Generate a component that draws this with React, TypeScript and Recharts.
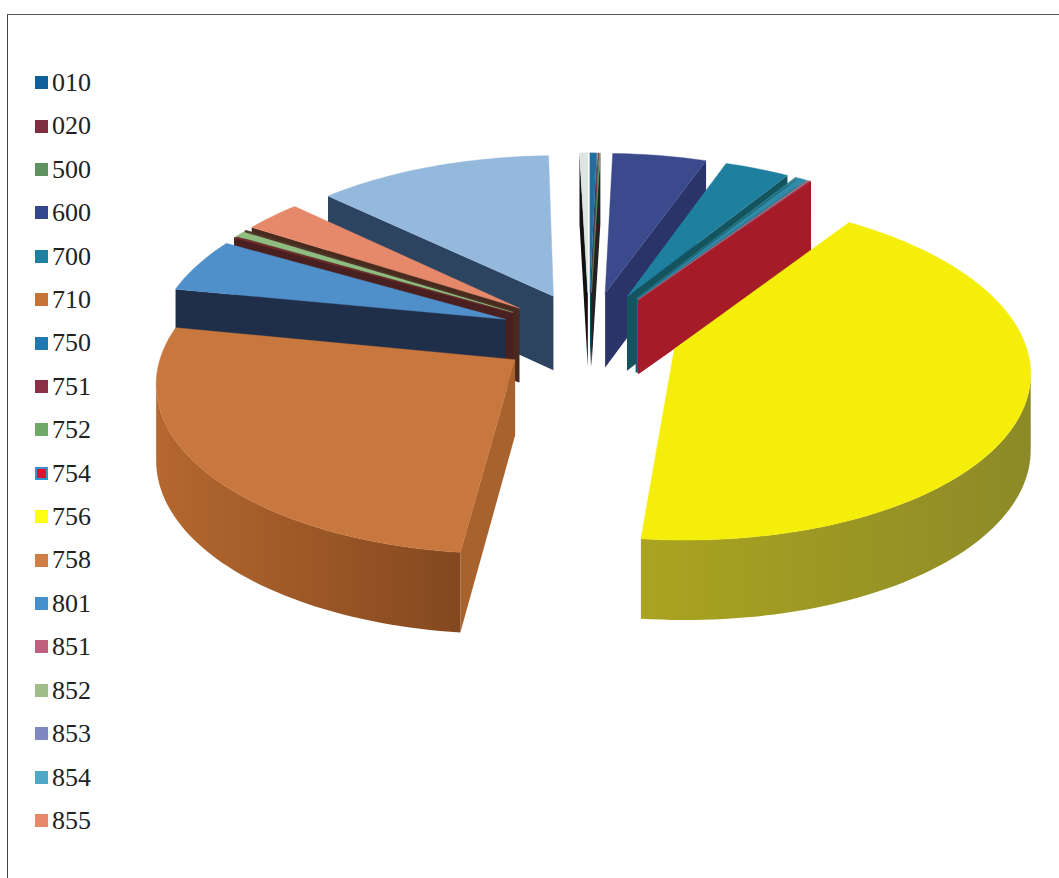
import React from "react";
import { PieChart, Pie, Legend } from "recharts";

// Legend entries shown in the reference
const legendNames = ["010","020","500","600","700","710","750","751","752","754","756","758","801","851","852","853","854","855"];
const legendColors = ["#0f5f9c","#7f2f40","#5f9060","#34478c","#1f7fa0","#c87236","#1f78b0","#8b2f45","#6fa868","#e01030","#ffff10","#cf7f45","#4490cc","#c0607f","#a0bc88","#7f88c0","#50a8c8","#e8886a"];

// Slices (the last two are drawn in the pie but cut from the legend)
const names = [...legendNames, "856", "857"];
const shares = [0.36,0.06,0.06,4.95,3.43,0.11,0.43,0.06,0.06,0.08,42.19,26.28,5.22,0.11,0.56,0.06,0.06,3.06,12.44,0.44];
const topColors = ["#1f6fa0","#7a3040","#6a9a60","#3a4a8c","#1f7f9f","#2f7f8f","#2f8aa8","#a06a80","#7aa0a0","#c03050","#f5ee0a","#c8773e","#4f8fca","#7a3030","#8fbc80","#5a4030","#4a3a30","#e5896a","#95b9dc","#dde5e0"];
const wallColors = ["#0d4a70","#222","#222","#2a3468","#14545f","#14545f","#1c6a80","#7a2030","#7a2030","#a51c28","#aba420","#a8622e","#1f2f4a","#4a1f20","#4a2020","#4a2a20","#4a2a20","#4a2a1c","#2c4460","#111"];
const arcGradients: Record<string,[string,string]> = { "756": ["#aba420","#8c8a28"], "758": ["#b5682f","#84481f"] };

const tableRows = names.map((name, i) => ({ name, value: shares[i], top: topColors[i], wall: wallColors[i] }));
const tableReversed = [...tableRows].reverse();

const EXPLODE = 90, PERSP = 3000, TILT = 0.473, DEPTH = 75, DEPTH_PERSP = 0.45;
const rad = Math.PI / 180;

function geometry(p: any) {
  const a0 = Math.min(90 - p.startAngle, 90 - p.endAngle);
  const a1 = Math.max(90 - p.startAngle, 90 - p.endAngle);
  const mid = (a0 + a1) / 2;
  const project = (r: number, a: number) => {
    const X = EXPLODE * Math.sin(mid * rad) + r * Math.sin(a * rad);
    const Y = EXPLODE * Math.cos(mid * rad) + r * Math.cos(a * rad);
    const s = PERSP / (PERSP + Y);
    return { x: p.cx + X * s, y: p.cy - Y * TILT * s, d: DEPTH * (1 + (s - 1) * DEPTH_PERSP) };
  };
  const steps = Math.max(1, Math.ceil((a1 - a0) / 1.5));
  const arc = [];
  for (let i = 0; i <= steps; i++) arc.push(project(p.outerRadius, a0 + ((a1 - a0) * i) / steps));
  return { apex: project(0, mid), arc, mid };
}
const poly = (pts: any[]) => pts.map((q) => `${q.x.toFixed(2)},${q.y.toFixed(2)}`).join(" ");
const wallPoly = (pts: any[]) => poly([...pts, ...[...pts].reverse().map((q) => ({ x: q.x, y: q.y + q.d }))]);

function Top(p: any) {
  const { apex, arc } = geometry(p);
  return <polygon points={poly([apex, ...arc])} fill={p.payload.top} stroke={p.payload.top} strokeWidth={0.4} />;
}

function walls(p: any) {
  const { apex, arc } = geometry(p);
  const wall = p.payload.wall;
  const grad = arcGradients[p.payload.name];
  const out: any[] = [];
  if (arc[0].x < apex.x) out.push(<polygon key="s" points={wallPoly([apex, arc[0]])} fill={wall} />);
  if (apex.x < arc[arc.length - 1].x) out.push(<polygon key="e" points={wallPoly([arc[arc.length - 1], apex])} fill={wall} />);
  let run: any[] = [];
  const flush = () => {
    if (run.length > 1) out.push(<polygon key={"a" + out.length} points={wallPoly(run)} fill={grad ? `url(#arc${p.payload.name})` : wall} />);
    run = [];
  };
  for (let i = 0; i < arc.length - 1; i++) {
    if (arc[i + 1].x < arc[i].x) {
      if (!run.length) run.push(arc[i]);
      run.push(arc[i + 1]);
    } else flush();
  }
  flush();
  const xs = arc.map((q) => q.x);
  return (
    <g>
      {grad && (
        <defs>
          <linearGradient id={"arc" + p.payload.name} gradientUnits="userSpaceOnUse" x1={Math.min(...xs)} x2={Math.max(...xs)} y1={0} y2={0}>
            <stop offset="0" stopColor={grad[0]} />
            <stop offset="1" stopColor={grad[1]} />
          </linearGradient>
        </defs>
      )}
      {out}
    </g>
  );
}
const LeftWalls = (p: any) => (geometry(p).mid > 180 ? walls(p) : <g />);
const RightWalls = (p: any) => (geometry(p).mid <= 180 ? walls(p) : <g />);

const LegendList = () => (
  <div style={{ fontFamily: "'Liberation Serif', serif", fontSize: 26, color: "#222", lineHeight: "43.41px" }}>
    {legendNames.map((n, i) => (
      <div key={n} style={{ display: "flex", alignItems: "center", height: 43.41 }}>
        <span style={{ width: n === "754" ? 9 : 13, height: n === "754" ? 9 : 13, background: legendColors[i], border: n === "754" ? "2px solid #3a8fd0" : "none", marginRight: 4 }} />
        {n}
      </div>
    ))}
  </div>
);

const shared = { dataKey: "value", nameKey: "name", cx: 504, cy: 329, outerRadius: 349, innerRadius: 0, isAnimationActive: false, stroke: "none" } as any;

export default function App() {
  return (
    <div style={{ position: "absolute", left: 0, top: 0, width: 1059, height: 878, background: "#fff", overflow: "hidden" }}>
      <div style={{ position: "absolute", left: 7, top: 14, width: 1052, height: 864, borderLeft: "1px solid #444", borderTop: "1px solid #555" }} />
      <PieChart width={1059} height={878} style={{ position: "absolute", left: 0, top: 0 }}>
        <Pie {...shared} data={tableReversed} startAngle={-270} endAngle={90} shape={LeftWalls} activeShape={LeftWalls} inactiveShape={LeftWalls} />
        <Pie {...shared} data={tableRows} startAngle={90} endAngle={-270} shape={RightWalls} activeShape={RightWalls} inactiveShape={RightWalls} />
        <Pie {...shared} data={tableRows} startAngle={90} endAngle={-270} shape={Top} activeShape={Top} inactiveShape={Top} />
        <Legend content={<LegendList />} layout="vertical" align="left" verticalAlign="top" wrapperStyle={{ left: 35, top: 61, width: 80 }} />
      </PieChart>
    </div>
  );
}
